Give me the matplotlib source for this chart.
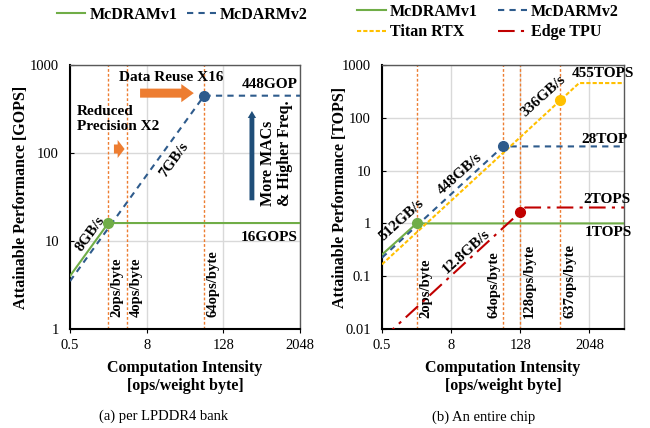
import matplotlib
matplotlib.use("Agg")
import matplotlib.pyplot as plt

# --- data (a) per LPDDR4 bank, GOPS ---
a_v1_x = [0.5, 2, 2048]
a_v1_y = [4, 16, 16]
a_v2_x = [0.5, 64, 2048]
a_v2_y = [3.5, 448, 448]
a_ridges = [2, 4, 64]
a_ridge_labels = ["2ops/byte", "4ops/byte", "64ops/byte"]
a_xticks = [0.5, 8, 128, 2048]
a_yticks = [1, 10, 100, 1000]

# --- data (b) entire chip, TOPS ---
b_v1_x = [0.5, 2, 8192]
b_v1_y = [0.256, 1, 1]
b_v2_x = [0.5, 64, 8192]
b_v2_y = [0.224, 28.7, 28.7]
b_titan_x = [0.5, 1354, 8192]
b_titan_y = [0.168, 455, 455]
b_tpu_x = [0.5, 156, 8192]
b_tpu_y = [0.0064, 2, 2]
b_dots_x = [2, 64, 637, 128]
b_dots_y = [1, 28.7, 214, 1.64]
b_ridges = [2, 64, 128, 637]
b_ridge_labels = ["2ops/byte", "64ops/byte", "128ops/byte", "637ops/byte"]
b_xticks = [0.5, 8, 128, 2048]
b_yticks = [0.01, 0.1, 1, 10, 100, 1000]

GREEN = "#70AD47"
BLUE = "#2E5B8C"
YELLOW = "#FFC000"
RED = "#C00000"
ORANGE = "#ED7D31"
DKBLUE = "#1F4E79"

plt.rcParams["font.family"] = ["Liberation Serif", "DejaVu Serif"]
plt.rcParams["font.size"] = 10

fig = plt.figure(figsize=(6.5, 4.28), dpi=100)
axa = fig.add_axes([70/650, 1-329/428, 230/650, 264/428])
axb = fig.add_axes([382/650, 1-329/428, 242/650, 264/428])

BOLD = dict(fontweight="bold", fontsize=11)


def style(ax, xlim, ylim, xticks, yticks, ylabel, ylab_x):
    ax.set_xscale("log", base=2)
    ax.set_yscale("log")
    ax.set_xlim(*xlim)
    ax.set_ylim(*ylim)
    ax.set_xticks(xticks)
    ax.set_xticklabels([("%g" % t) for t in xticks])
    ax.set_yticks(yticks)
    ax.set_yticklabels([("%g" % t) for t in yticks])
    ax.minorticks_off()
    ax.grid(True, color="#D9D9D9", lw=1, zorder=0)
    ax.tick_params(axis="y", direction="in", length=3, pad=8, labelsize=10.5)
    ax.tick_params(axis="x", direction="out", length=3, pad=4, labelsize=10.5)
    for s in ["left", "bottom"]:
        ax.spines[s].set_color("black")
        ax.spines[s].set_linewidth(1.5)
    for s in ["top", "right"]:
        ax.spines[s].set_color("#595959")
        ax.spines[s].set_linewidth(1.0)
    ax.set_xlabel("Computation Intensity\n[ops/weight byte]", fontweight="bold",
                  fontsize=11.5, labelpad=6, linespacing=1.15)
    ax.set_ylabel(ylabel, fontweight="bold", fontsize=11.5, va="center")
    ax.yaxis.set_label_coords(ylab_x, 0.5)


def big_arrow(ax, x0, x1, y0, y1, color, tw, hw, hl):
    ax.annotate("", xy=(x1, y1), xytext=(x0, y0),
                arrowprops=dict(arrowstyle="simple,head_length=%g,head_width=%g,tail_width=%g" % (hl, hw, tw),
                                color=color, shrinkA=0, shrinkB=0, lw=0),
                zorder=5)


# ---------------- (a) ----------------
style(axa, (0.5, 2048), (1, 1000), a_xticks, a_yticks, "Attainable Performance [GOPS]",
      (21 - 70) / 230)
for r in a_ridges:
    axa.axvline(r, color=ORANGE, lw=1, ls=(0, (2, 1.5)), zorder=2)
for r, lab in zip(a_ridges, a_ridge_labels):
    axa.text(r * 1.08, 1.37, lab, rotation=90, ha="left", va="bottom",
             fontweight="bold", fontsize=10.5)

l1, = axa.plot(a_v1_x, a_v1_y, color=GREEN, lw=1.5, zorder=3, label="McDRAMv1")
l2, = axa.plot(a_v2_x, a_v2_y, color=BLUE, lw=1.5, ls=(0, (3, 2.5)), zorder=3, label="McDARMv2")
axa.plot([2], [16], "o", color=GREEN, ms=7, zorder=4)
axa.plot([64], [448], "o", color=BLUE, ms=7, zorder=4)

axa.text(19.3, 727, "Data Reuse X16", ha="center", va="center", **BOLD)
axa.text(0.64, 243, "Reduced\nPrecision X2", ha="left", va="center", linespacing=1.2, **BOLD)
axa.text(1900, 605, "448GOP", ha="right", va="center", **BOLD)
axa.text(1900, 11.1, "16GOPS", ha="right", va="center", **BOLD)
axa.text(1.03, 12, "8GB/s", rotation=54, ha="center", va="center", **BOLD)
axa.text(21.5, 83, "7GB/s", rotation=54, ha="center", va="center", **BOLD)
axa.text(880, 100, "More MACs\n& Higher Freq.", rotation=90, ha="center", va="center",
         multialignment="left", linespacing=1.05, fontweight="bold", fontsize=11.5)

big_arrow(axa, 6.3, 44, 479, 479, ORANGE, 0.65, 1.3, 0.9)
big_arrow(axa, 2.45, 3.6, 111, 111, ORANGE, 0.65, 1.3, 0.5)
big_arrow(axa, 360, 360, 29, 300, DKBLUE, 0.35, 0.6, 0.5)

fig.legend(handles=[l1, l2], loc="center", bbox_to_anchor=(182/650, 1-15/428), ncol=2,
           frameon=False, prop=dict(weight="bold", size=11.5), handlelength=1.8,
           handletextpad=0.25, columnspacing=0.6)

# ---------------- (b) ----------------
style(axb, (0.5, 8192), (0.01, 1000), b_xticks, b_yticks, "Attainable Performance [TOPS]",
      (340 - 382) / 242)
for r in b_ridges:
    axb.axvline(r, color=ORANGE, lw=1, ls=(0, (2, 1.5)), zorder=2)
for r, lab in zip(b_ridges, b_ridge_labels):
    if r == 64:
        axb.text(r / 1.1, 0.016, lab, rotation=90, ha="right", va="bottom",
                 fontweight="bold", fontsize=10.5)
    else:
        axb.text(r * 1.12, 0.016, lab, rotation=90, ha="left", va="bottom",
                 fontweight="bold", fontsize=10.5)

m1, = axb.plot(b_v1_x, b_v1_y, color=GREEN, lw=1.5, zorder=3, label="McDRAMv1")
m2, = axb.plot(b_v2_x, b_v2_y, color=BLUE, lw=1.5, ls=(0, (3, 2.5)), zorder=3, label="McDARMv2")
m3, = axb.plot(b_titan_x, b_titan_y, color=YELLOW, lw=1.5, ls=(0, (2, 1)), zorder=3, label="Titan RTX")
m4, = axb.plot(b_tpu_x, b_tpu_y, color=RED, lw=1.5, ls=(0, (8, 3, 1.5, 3)), zorder=3, label="Edge TPU")
for x, y, c in zip(b_dots_x, b_dots_y, [GREEN, BLUE, YELLOW, RED]):
    axb.plot([x], [y], "o", color=c, ms=7, zorder=4)

axb.text(1010, 676, "455TOPS", ha="left", va="center", clip_on=False, **BOLD)
axb.text(1500, 39, "28TOP", ha="left", va="center", clip_on=False, **BOLD)
axb.text(1630, 2.83, "2TOPS", ha="left", va="center", clip_on=False, **BOLD)
axb.text(1700, 0.67, "1TOPS", ha="left", va="center", clip_on=False, **BOLD)
axb.text(331, 257, "336GB/s", rotation=42, ha="center", va="center", **BOLD)
axb.text(11.2, 8.8, "448GB/s", rotation=42, ha="center", va="center", **BOLD)
axb.text(1.11, 1.18, "512GB/s", rotation=42, ha="center", va="center", **BOLD)
axb.text(14.8, 0.29, "12.8GB/s", rotation=42, ha="center", va="center", **BOLD)

fig.legend(handles=[m1, m3, m2, m4], loc="center", bbox_to_anchor=(488/650, 1-22/428), ncol=2,
           frameon=False, prop=dict(weight="bold", size=11.5), handlelength=1.8,
           handletextpad=0.25, columnspacing=1.3, labelspacing=0.3)

fig.text(164/650, 1-416/428, "(a) per LPDDR4 bank", ha="center", va="center", fontsize=10.5)
fig.text(484/650, 1-417/428, "(b) An entire chip", ha="center", va="center", fontsize=10.5)

fig.savefig("out.png", dpi=100)
